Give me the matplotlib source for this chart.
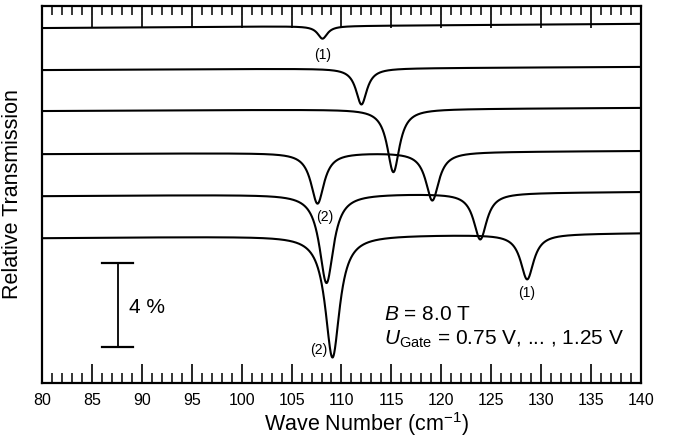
import numpy as np
import matplotlib
matplotlib.use("Agg")
import matplotlib.pyplot as plt

plt.rcParams['font.family'] = ['Liberation Sans', 'DejaVu Sans']
plt.rcParams['mathtext.fontset'] = 'custom'
plt.rcParams['mathtext.rm'] = 'Liberation Sans'
plt.rcParams['mathtext.it'] = 'Liberation Sans:italic'

# ---- data (relative transmission in %, offset traces) ----
baseline_left = [16.90, 14.90, 12.95, 10.90, 8.90, 6.90]    # level at 80 cm^-1
baseline_right = [17.10, 15.05, 13.10, 11.05, 9.10, 7.14]   # level at 140 cm^-1
dip_pos = [[108.1], [112.0], [115.2], [107.6, 119.1], [108.5, 123.9], [109.1, 128.6]]
dip_depth = [[0.60], [1.72], [3.00], [2.42, 2.30], [4.23, 2.20], [5.80, 2.15]]
dip_fwhm = [[1.2], [1.35], [1.5], [1.6, 1.6], [1.7, 1.6], [1.75, 1.6]]

x_min, x_max = 80, 140
y_min, y_max = 0.0, 17.95
scale_bar = 4.0  # percent

fig = plt.figure(figsize=(6.75, 4.43), dpi=100)
ax = fig.add_axes([0.0622, 0.1354, 0.8874, 0.8511])

x = np.linspace(x_min, x_max, 4000)
for bl, br, pos, dep, fw in zip(baseline_left, baseline_right, dip_pos, dip_depth, dip_fwhm):
    y = bl + (br - bl) * (x - x_min) / (x_max - x_min)
    for p, d, w in zip(pos, dep, fw):
        y = y - d / (1 + ((x - p) / (w / 2)) ** 2)
    ax.plot(x, y, color='black', lw=1.5, solid_capstyle='butt')

ax.set_xlim(x_min, x_max)
ax.set_ylim(y_min, y_max)
ax.set_yticks([])
for s in ax.spines.values():
    s.set_linewidth(1.6)

ax.set_xticks(np.arange(80, 141, 5))
ax.set_xticks(np.arange(80, 141, 1), minor=True)
ax.tick_params(axis='x', which='major', direction='in', length=13.5, width=1.2,
               labelsize=11.5, pad=7, top=False)
ax.tick_params(axis='x', which='minor', direction='in', length=7, width=1.1, top=False)

ax2 = ax.twiny()
ax2.set_xlim(x_min, x_max)
ax2.set_xticks(np.arange(80, 141, 5))
ax2.set_xticks(np.arange(80, 141, 1), minor=True)
ax2.tick_params(axis='x', which='major', direction='in', length=15.8, width=1.2,
                labeltop=False)
ax2.tick_params(axis='x', which='minor', direction='in', length=6.5, width=1.1)
for s in ax2.spines.values():
    s.set_visible(False)

ax.set_xlabel(r'Wave Number (cm$^{\mathrm{-1}}$)', fontsize=15.5)
ax.xaxis.set_label_coords(0.541, -0.072)
ax.set_ylabel('Relative Transmission', fontsize=15.5)
ax.yaxis.set_label_coords(-0.031, 0.5)

# scale bar
sb_x, sb_y0 = 87.58, 1.71
ax.plot([sb_x, sb_x], [sb_y0, sb_y0 + scale_bar], color='black', lw=1.3)
ax.plot([86.0, 89.1], [sb_y0, sb_y0], color='black', lw=1.6)
ax.plot([86.0, 89.1], [sb_y0 + scale_bar, sb_y0 + scale_bar], color='black', lw=1.6)
ax.text(88.7, sb_y0 + scale_bar / 2 - 0.1, f'{scale_bar:.0f} %', fontsize=15, va='center', ha='left')

# peak labels
ax.text(108.1, 15.6, '(1)', fontsize=10, ha='center', va='center')
ax.text(108.35, 7.92, '(2)', fontsize=10, ha='center', va='center')
ax.text(128.55, 4.27, '(1)', fontsize=10, ha='center', va='center')
ax.text(107.68, 1.57, '(2)', fontsize=10, ha='center', va='center')

ax.text(114.3, 3.24, r'$B$ = 8.0 T', fontsize=15, ha='left', va='center')
ax.text(114.3, 2.10, r'$U_{\mathrm{Gate}}$ = 0.75 V, ... , 1.25 V', fontsize=15, ha='left', va='center')

fig.savefig('out.png', dpi=100)
